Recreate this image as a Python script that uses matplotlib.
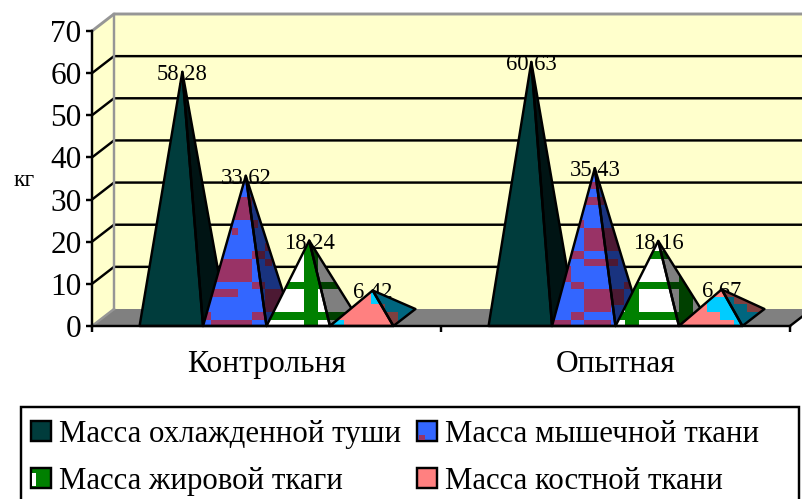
import numpy as np
import matplotlib
matplotlib.use("Agg")
import matplotlib.pyplot as plt
from matplotlib.patches import Polygon, Rectangle
from matplotlib.legend_handler import HandlerBase

categories = ["Контрольня", "Опытная"]
series_names = ["Масса охлажденной туши", "Масса мышечной ткани", "Масса жировой ткаги", "Масса костной ткани"]
v_carcass = [58.28, 60.63]
v_muscle = [33.62, 35.43]
v_fat = [18.24, 18.16]
v_bone = [6.42, 6.67]
labels_carcass = ["58,28", "60,63"]
labels_muscle = ["33,62", "35,43"]
labels_fat = ["18,24", "18,16"]
labels_bone = ["6,42", "6,67"]
y_ticks = [0, 10, 20, 30, 40, 50, 60, 70]

W, H = 802, 499
plt.rcParams["font.family"] = ["Liberation Serif", "DejaVu Serif"]
fig = plt.figure(figsize=(W / 100, H / 100), dpi=100, facecolor="white")
L, R, T, B = 92, 790, 31, 326
ax = fig.add_axes([L / W, 1 - B / H, (R - L) / W, (B - T) / H])
ax.set_zorder(1)
PX = 2 / (R - L)
PY = 70 / (B - T)
DX, DY = 22 * PX, 17 * PY
LW = 1.75

WALL, FLOOR, FRAME = "#FFFFCC", "#808080", "#969696"
DARK, BLUE, MAROON, GREEN, WHITE, PINK, CYAN = "#003C3C", "#3366FF", "#993366", "#008000", "#FFFFFF", "#FF8080", "#00CCFF"

# textures: rows listed from top to bottom; '.' base colour, 'M' second colour
BLUE_A = ["..............", "..............", "..............",
          "..MMMMMM......", "..MMMMMM......", "..MMMMMM......",
          "........M.....", ".....M........", "..............",
          "..........M...", "........MM....", "..MMMMMM..M...",
          "..MMMMMM......", "..MMMMMM......", "........MM....",
          "..MMMM....MMM.", "..........MMM.", "..........MMM.",
          ".M......MM....", "..MMMMMM......"]
BLUE_B = ["............", "......MM....", "............", ".....MMM....",
          "............", "............", "....M.......", ".....MMMMMM.",
          ".....MMMMMM.", ".....MMMMMM.", "...MM.......", ".....MMMMM..",
          "..M.........", "..M.........", "...MM......M", ".....MMMMMM.",
          ".....MMMMMM.", ".....MMMM...", "...MM.......", "MMM..MMMM..."]
FULL = "MMMMMMMMMMMMMM"
GREEN_A = ["......MM......"] * 14 + [FULL] + ["......MM......"] * 3 + [FULL, "......MM......"]
GREEN_B = ["..MM......MM.."] * 10 + [FULL] + ["..MM......MM.."] * 3 + [FULL] + ["..MM......MM.."] * 3 + [FULL, "..MM......MM.."]
PINK_A = ["......MMMMMMM", "......MMMMMMM", "........MMMMM", "..........MMM", "MM........MMM"]
PINK_B = [".............", "....MMMM.....", "....MMMMMM...", "......MMMMMMM", "........MMMMM"]

series = [
    (v_carcass, labels_carcass, DARK, DARK, None, None),
    (v_muscle, labels_muscle, BLUE, MAROON, (BLUE_A, BLUE_B), (-5, -1)),
    (v_fat, labels_fat, WHITE, GREEN, (GREEN_A, GREEN_B), (-2.4, -3.8)),
    (v_bone, labels_bone, PINK, CYAN, (PINK_A, PINK_B), (1, 1)),
]
CELL_W, CELL_H, TEX_DROP = 6.65, 7.67, 1.67


def rgb(c):
    return np.array(matplotlib.colors.to_rgb(c))


def texture(ax, rows, c0, c1, left, off, poly, shade, z):
    arr = np.array([[rgb(c1) if ch == "M" else rgb(c0) for ch in r] for r in rows]) * shade
    x0 = left + off * PX
    x1 = x0 + len(rows[0]) * CELL_W * PX
    y0 = -TEX_DROP * PY
    y1 = y0 + len(rows) * CELL_H * PY
    im = ax.imshow(arr, extent=(x0, x1, y0, y1), aspect="auto", interpolation="nearest", zorder=z)
    im.set_clip_path(poly)


# 3-D box
ax.add_patch(Polygon([(0, 0), (DX, DY), (DX, 70 + DY), (0, 70)], fc=WALL, ec="none", clip_on=False, zorder=1))
ax.add_patch(Polygon([(DX, DY), (2 + DX, DY), (2 + DX, 70 + DY), (DX, 70 + DY)], fc=WALL, ec="none", clip_on=False, zorder=1))
ax.add_patch(Polygon([(0, 0), (2, 0), (2 + DX, DY), (DX, DY)], fc=FLOOR, ec="none", clip_on=False, zorder=1.1))
for t in y_ticks[1:-1]:
    ax.plot([0, DX, 2 + DX], [t, t + DY, t + DY], color="black", lw=LW, clip_on=False, zorder=1.2, solid_capstyle="butt")
ax.plot([0, DX, 2 + DX], [70, 70 + DY, 70 + DY], color=FRAME, lw=2.1, clip_on=False, zorder=1.3)
ax.plot([DX, DX], [DY, 70 + DY], color=FRAME, lw=LW, clip_on=False, zorder=1.3)
ax.plot([0, DX], [0, DY], color=FRAME, lw=LW, clip_on=False, zorder=1.3)
ax.plot([2, 2 + DX], [0, DY], color="black", lw=LW, clip_on=False, zorder=1.3)

# pyramids
bw = 1 / 5.5
gap = 0.75 * bw
for j, (vals, labs, c0, c1, texs, offs) in enumerate(series):
    for i, v in enumerate(vals):
        left = i + gap + j * bw
        apex = (left + bw / 2 + DX / 2, v + DY / 2)
        z = 3 + j * 0.1 + i
        ax.text(apex[0], apex[1] - 2.5 * PY, labs[i], ha="center", va="center", fontsize=16.3, color="black", zorder=2)
        side = Polygon([(left + bw, 0), (left + bw + DX, DY), apex], closed=True, fc=rgb(c0) * (0.33 if j == 0 else 0.5), ec="none", clip_on=False, zorder=z)
        front = Polygon([(left, 0), (left + bw, 0), apex], closed=True, fc=c0, ec="none", clip_on=False, zorder=z + 0.02)
        ax.add_patch(side)
        ax.add_patch(front)
        if texs is not None:
            texture(ax, texs[i], c0, c1, left, offs[i], side, 0.5, z + 0.01)
            texture(ax, texs[i], c0, c1, left, offs[i], front, 1.0, z + 0.03)
        for pts in ([(left + bw, 0), (left + bw + DX, DY), apex], [(left, 0), (left + bw, 0), apex]):
            ax.add_patch(Polygon(pts, closed=True, fill=False, ec="black", lw=LW, joinstyle="round", clip_on=False, zorder=z + 0.04))

ax.set_xlim(0, 2)
ax.set_ylim(0, 70)
ax.patch.set_visible(False)
for s in ("top", "right"):
    ax.spines[s].set_visible(False)
for s in ("left", "bottom"):
    ax.spines[s].set_linewidth(LW)
    ax.spines[s].set_zorder(6)
ax.set_yticks(y_ticks)
ax.tick_params(axis="y", labelsize=22.5, length=4, width=LW, pad=3.5)
ax.set_xticks([0, 1, 2])
ax.set_xticklabels([])
ax.tick_params(axis="x", which="major", length=4, width=LW)
ax.set_xticks([0.5, 1.5], minor=True)
ax.set_xticklabels(categories, minor=True, fontsize=22.7)
ax.tick_params(axis="x", which="minor", length=0, pad=17)
fig.text(24 / W, 1 - 181 / H, "кг", ha="center", va="center", fontsize=17)


# legend
class Swatch(HandlerBase):
    def create_artists(self, legend, orig, xd, yd, w, h, fs, trans):
        c0, c1, kind = orig.swatch
        out = [Rectangle((0, yd + h / 2 - 7.2), w, 14.4, fc=c0, ec="black", lw=LW, transform=trans)]
        if kind == "corner":
            out.append(Rectangle((1, yd + h / 2 - 6.5), w * 0.3, 4, fc=c1, ec="none", transform=trans))
        elif kind == "stripe":
            out.append(Rectangle((1, yd + h / 2 - 6), w * 0.2, 10, fc=c1, ec="none", transform=trans))
        return out


handles = []
for c0, c1, kind in [(DARK, None, None), (BLUE, MAROON, "corner"), (GREEN, WHITE, "stripe"), (PINK, None, None)]:
    r = Rectangle((0, 0), 1, 1)
    r.swatch = (c0, c1, kind)
    handles.append(r)
fig.add_artist(Rectangle((21 / W, 1 - 520 / H), 778 / W, 113 / H, fill=False, ec="black", lw=LW, transform=fig.transFigure, clip_on=True))
fs = 22.2
order = [0, 2, 1, 3]
leg = fig.legend([handles[k] for k in order], [series_names[k] for k in order], ncol=2, frameon=False,
                 loc="upper left", bbox_to_anchor=(31 / W, 1 - 420 / H), borderaxespad=0, borderpad=0,
                 fontsize=fs, handler_map={Rectangle: Swatch()}, handlelength=14.4 / fs, handleheight=0.7,
                 handletextpad=5.8 / fs, columnspacing=11.5 / fs, labelspacing=0.58)
fig.savefig("out.png", dpi=100)
